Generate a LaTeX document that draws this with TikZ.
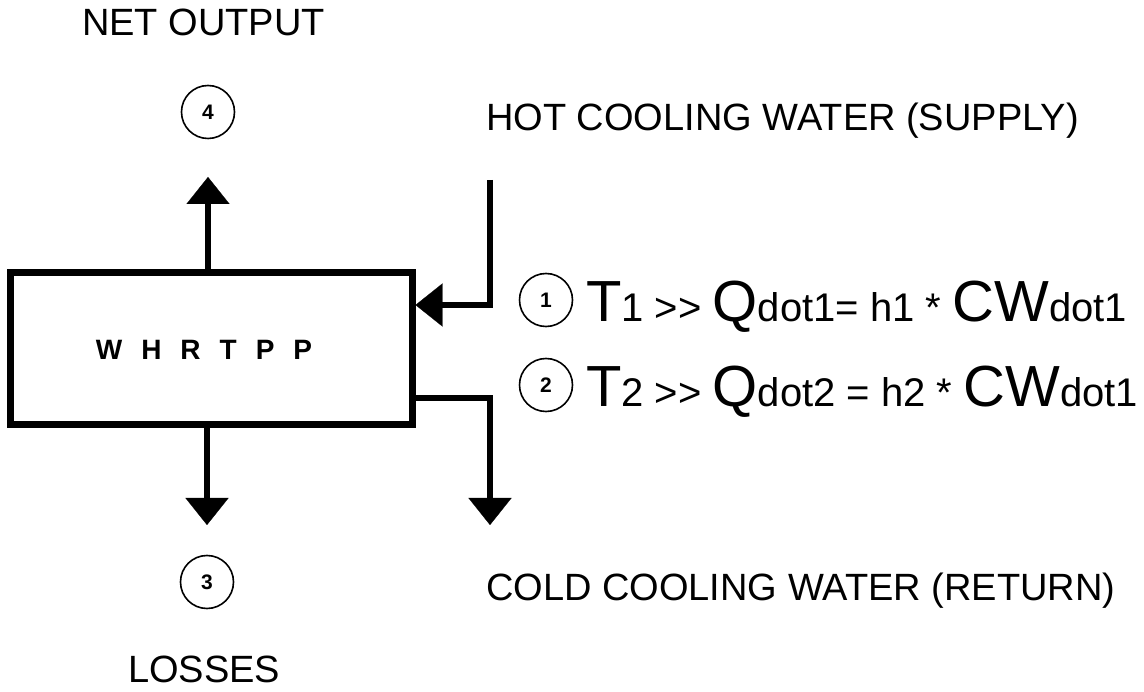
\documentclass[tikz,border=0pt]{standalone}
\usepackage{fontspec}
\setmainfont{Liberation Sans}
\usetikzlibrary{arrows.meta}
\newcommand{\eqbig}[1]{{\fontsize{58}{60}\selectfont #1}}
\newcommand{\eqsm}[1]{{\fontsize{40}{42}\selectfont #1}}
\newcommand{\gtgt}{>\kern0pt>}
\tikzset{
  flow/.style={line width=6pt, -{Triangle[length=27pt,width=43pt,line width=0.1pt]}},
  numcirc/.style={circle, draw, line width=1.6pt, minimum size=53pt, inner sep=0pt,
    font=\fontsize{21}{21}\selectfont\bfseries},
  label/.style={anchor=base west, inner sep=0pt, font=\fontsize{38}{40}\selectfont},
  eqline/.style={anchor=base west, inner sep=0pt}
}
\begin{document}
\begin{tikzpicture}[x=1pt,y=-1pt]
\useasboundingbox (0,0) rectangle (1144,692);
% main box
\node[draw, line width=7pt, minimum width=402pt, minimum height=152pt, inner sep=0pt] (box) at (211,349) {};
\node[inner sep=0pt, font=\fontsize{28}{28}\selectfont\bfseries] (boxtxt) at (204,350)
  {W\hspace{19pt}H\hspace{19pt}R\hspace{19pt}T\hspace{19pt}P\hspace{19pt}P};
% labels
\node[label] (netout) at (82,36) {NET OUTPUT};
\node[label] (hot) at (486,131) {HOT COOLING WATER (SUPPLY)};
\node[label] (cold) at (486,600) {COLD COOLING WATER (RETURN)};
\node[label] (losses) at (128,682) {LOSSES};
% numbered circles
\node[numcirc] (c4) at (208,112) {4};
\node[numcirc] (c3) at (207,582) {3};
\node[numcirc] (c1) at (546,300) {1};
\node[numcirc] (c2) at (546,385) {2};
% equations
\node[eqline] (eq1) at (586,322) {\eqbig{T}\eqsm{1 \gtgt{} }\eqbig{Q}\eqsm{dot1= h1 * }\eqbig{CW}\eqsm{dot1}};
\node[eqline] (eq2) at (586,407) {\eqbig{T}\eqsm{2 \gtgt{} }\eqbig{Q}\eqsm{dot2 = h2 * }\eqbig{CW}\eqsm{dot1}};
% connectors
\coordinate (outtop) at (208,177);
\coordinate (losstip) at (207,525);
\coordinate (inS) at (490,180);
\coordinate (inC) at (490,305);
\coordinate (outC) at (490,398);
\coordinate (outE) at (490,525);
\draw[flow] (outtop |- box.north) -- (outtop);
\draw[flow] (losstip |- box.south) -- (losstip);
\draw[flow] (inS) -- (inC) -- (inC -| box.east);
\draw[flow] ([xshift=-4pt]outC -| box.east) -- (outC) -- (outE);
\end{tikzpicture}
\end{document}
